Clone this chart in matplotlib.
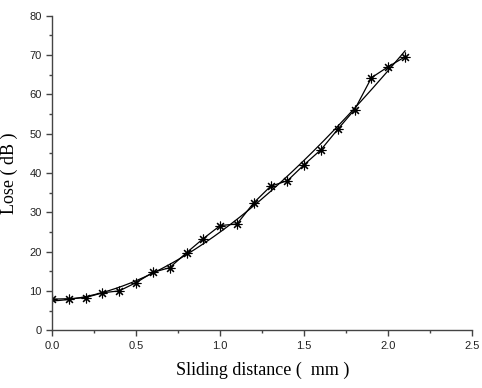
import numpy as np
import matplotlib.pyplot as plt

distance = [0.0, 0.1, 0.2, 0.3, 0.4, 0.5, 0.6, 0.7, 0.8, 0.9, 1.0,
            1.1, 1.2, 1.3, 1.4, 1.5, 1.6, 1.7, 1.8, 1.9, 2.0, 2.1]
loss = [7.9, 8.0, 8.3, 9.5, 10.0, 12.1, 14.7, 15.9, 19.7, 23.3, 26.6,
        27.0, 32.4, 36.6, 38.0, 42.1, 45.9, 51.1, 56.1, 64.2, 67.0, 69.5]

x_ticks = [0.0, 0.5, 1.0, 1.5, 2.0, 2.5]
y_ticks = [0, 10, 20, 30, 40, 50, 60, 70, 80]

fig = plt.figure(figsize=(4.82, 3.88), dpi=100)
ax = fig.add_axes([0.108, 0.149, 0.872, 0.811])

# Smooth polynomial fit through the measured points
coef = np.polyfit(distance, loss, 3)
xs = np.linspace(distance[0], distance[-1], 200)
ax.plot(xs, np.polyval(coef, xs), color='black', lw=0.9)

# Measured data
ax.plot(distance, loss, color='black', lw=0.9, marker=(8, 2, 0),
        markersize=7, markeredgewidth=0.8)

ax.set_xlim(0, 2.5)
ax.set_ylim(0, 80)
ax.set_xticks(x_ticks)
ax.set_xticklabels([f'{v:.1f}' for v in x_ticks])
ax.set_yticks(y_ticks)
ax.set_xticks(np.arange(0.25, 2.5, 0.5), minor=True)
ax.set_yticks(np.arange(5, 80, 10), minor=True)

for side in ['top', 'right']:
    ax.spines[side].set_visible(False)
for side in ['left', 'bottom']:
    ax.spines[side].set_color('#444444')
    ax.spines[side].set_linewidth(1.0)

ax.tick_params(which='major', direction='out', length=4, width=1.0,
               colors='#444444', labelcolor='#222222', labelsize=8)
ax.tick_params(which='minor', direction='out', length=2.5, width=1.0,
               colors='#444444')
for lbl in ax.get_xticklabels() + ax.get_yticklabels():
    lbl.set_fontfamily('Liberation Sans')

ax.set_xlabel('Sliding distance (  mm )', fontfamily='Liberation Serif',
              fontsize=13, labelpad=8)
ax.set_ylabel('Lose ( dB )', fontfamily='Liberation Serif',
              fontsize=13, labelpad=8)

fig.savefig('out.png', dpi=100)
